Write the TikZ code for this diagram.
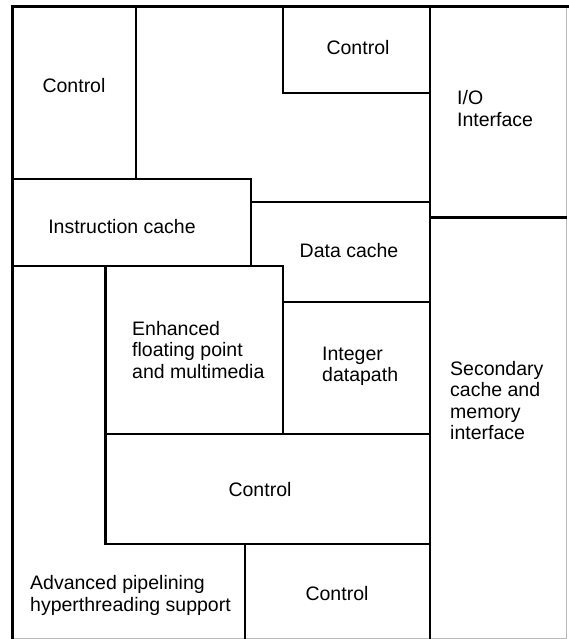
\documentclass[tikz,border=0pt]{standalone}
\usepackage{fontspec}
\setmainfont{Liberation Sans}
\begin{document}
\begin{tikzpicture}[x=1pt,y=-1pt,
  wall/.style={line width=2.2pt,line cap=rect},
  frame/.style={line width=3.2pt,line cap=rect},
  edge/.style={line width=1pt,draw=black!28},
  lbl/.style={inner sep=0pt,font=\fontsize{19.5}{21.5}\selectfont},
  lblc/.style={lbl,anchor=base},
  % multi-line labels: the base anchor sits on the last line
  lbll/.style={lbl,anchor=base west,align=left}]
\useasboundingbox (0,0) rectangle (568,639);
% outer die outline
\draw[edge] (566,6.5) -- (566,638) -- (12.5,638);
\draw[frame] (12.5,639) -- (12.5,6.5) -- (567,6.5);
% block boundaries
\draw[wall] (136,6.5) -- (136,179);
\draw[wall] (12.5,179) -- (251,179) -- (251,266);
\draw[wall] (283,6.5) -- (283,93) -- (430,93);
\draw[wall] (430,6.5) -- (430,638);
\draw[wall] (251,202) -- (430,202);
\draw[wall] (430,217.5) -- (566,217.5);
\draw[wall] (12.5,266) -- (283,266) -- (283,434);
\draw[wall] (283,302) -- (430,302);
\draw[wall] (105.5,266) -- (105.5,544);
\draw[wall] (105.5,434) -- (430,434);
\draw[wall] (105.5,544) -- (430,544);
\draw[wall] (245,544) -- (245,638);
% block labels
\node[lblc] (ctl1) at (74,93) {Control};
\node[lblc] (ctl2) at (358,55) {Control};
\node[lbll] (io) at (457,126.5) {I/O\\Interface};
\node[lblc] (icache) at (122,233) {Instruction cache};
\node[lblc] (dcache) at (349,257) {Data cache};
\node[lbll] (fp) at (132,378) {Enhanced\\floating point\\and multimedia};
\node[lbll] (int) at (322,381.5) {Integer\\datapath};
\node[lbll] (l2) at (450,439.5) {Secondary\\cache and\\memory\\interface};
\node[lblc] (ctl3) at (260,496) {Control};
\node[lbll] (pipe) at (30,611) {Advanced pipelining\\hyperthreading support};
\node[lblc] (ctl4) at (337,600) {Control};
\end{tikzpicture}
\end{document}
